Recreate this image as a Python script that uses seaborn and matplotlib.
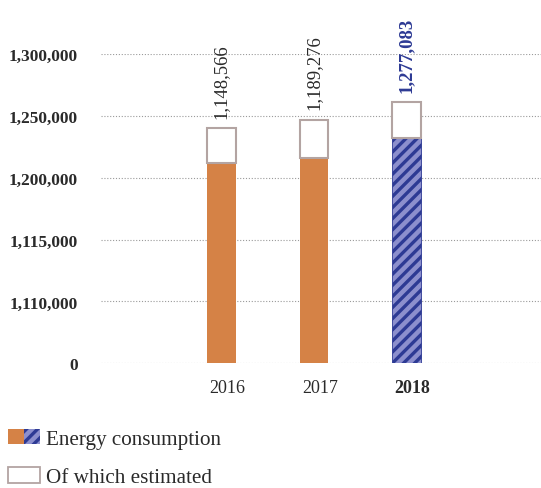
import numpy as np
import pandas as pd
import matplotlib
matplotlib.use("Agg")
import matplotlib.pyplot as plt
import seaborn as sns
from matplotlib.patches import Patch
from matplotlib.legend_handler import HandlerTuple
from matplotlib.transforms import ScaledTranslation

# ---- data ----
years = ["2016", "2017", "2018"]
energy = [1212000, 1216000, 1232500]        # solid / hatched part (axis units)
total = [1240000, 1247000, 1261000]         # top of the "estimated" box (axis units)
value_labels = ["1,148,566", "1,189,276", "1,277,083"]
ytick_values = [0, 1110000, 1115000, 1200000, 1250000, 1300000]
ytick_labels = ["0", "1,110,000", "1,115,000", "1,200,000", "1,250,000", "1,300,000"]
legend_labels = ["Energy consumption", "Of which estimated"]

ORANGE = "#D58246"
NAVY = "#2D3A94"
LAVENDER = "#8C8FCD"
BOXEDGE = "#B3A4A2"
TEXT = "#2a2a2a"
SERIF = "Liberation Serif"

sns.set_theme(style="white")
plt.rcParams["font.family"] = [SERIF, "DejaVu Serif"]
plt.rcParams["hatch.linewidth"] = 2.4

df = pd.DataFrame({"year": years, "energy": energy,
                   "estimated": np.array(total) - np.array(energy)})

fig = plt.figure(figsize=(5.41, 4.89), dpi=100)
ax = fig.add_axes([101 / 541, 1 - 364.3 / 489, 1 - 101 / 541, (364.3 - 55) / 489])

# broken (piecewise) axis: evenly spaced gridlines for the tick values
pos = np.arange(len(ytick_values), dtype=float)
tv = np.array(ytick_values, dtype=float)
fwd = lambda v: np.interp(v, tv, pos)
inv = lambda p: np.interp(p, pos, tv)
ax.set_yscale("function", functions=(fwd, inv))

sns.barplot(data=df, x="year", y="energy", hue="year",
            palette=[ORANGE, ORANGE, LAVENDER], width=0.31, legend=False,
            saturation=1, linewidth=0, ax=ax, zorder=3)
sns.barplot(data=df, x="year", y="estimated", color="white", width=0.31,
            saturation=1, bottom=df["energy"].values, edgecolor=BOXEDGE,
            linewidth=1.5, ax=ax, zorder=3)

# hatch for 2018 energy bar
for p in ax.patches[:3]:
    cx = p.get_x() + p.get_width() / 2
    if abs(cx - 2) < 0.5:
        p.set_edgecolor(NAVY)
        p.set_hatch("///")
        p.set_linewidth(0.6)

ax.set_ylim(0, 1300000)
ax.set_xlim(-1.30, 3.45)
ax.set_yticks(ytick_values)
ax.set_yticklabels(ytick_labels)
ax.yaxis.set_minor_locator(matplotlib.ticker.NullLocator())
ax.grid(axis="y", color="#9a9a9a", linestyle=(0, (1, 1.6)), linewidth=0.8, zorder=0)
ax.grid(axis="x", visible=False)
for s in ax.spines.values():
    s.set_visible(False)
ax.set_xlabel("")
ax.set_ylabel("")
ax.tick_params(axis="y", length=0, pad=16.5, labelsize=12.5, labelcolor=TEXT)
ax.tick_params(axis="x", length=0, pad=11, labelsize=13, labelcolor=TEXT)
for lab in ax.get_yticklabels():
    lab.set_fontweight("bold")
offset = ScaledTranslation(6 / 100, 0, fig.dpi_scale_trans)
for lab in ax.get_xticklabels():
    lab.set_transform(lab.get_transform() + offset)
    if lab.get_text() == "2018":
        lab.set_fontweight("bold")

for i, (t, lab) in enumerate(zip(total, value_labels)):
    bold = years[i] == "2018"
    ax.annotate(lab, (i, t), xytext=(0, 7.5), textcoords="offset points",
                rotation=90, ha="center", va="bottom", fontsize=13.5,
                color=NAVY if bold else TEXT,
                fontweight="bold" if bold else "normal",
                annotation_clip=False)

h_orange = Patch(facecolor=ORANGE, edgecolor=ORANGE, linewidth=0)
h_hatch = Patch(facecolor=LAVENDER, edgecolor=NAVY, hatch="///", linewidth=0)
h_box = Patch(facecolor="white", edgecolor=BOXEDGE, linewidth=1.3)
fig.legend(handles=[(h_orange, h_hatch), h_box], labels=legend_labels,
           handler_map={tuple: HandlerTuple(ndivide=None, pad=0)},
           loc="upper left", bbox_to_anchor=(8 / 541, 1 - 430 / 489),
           frameon=False, fontsize=15.2, labelcolor=TEXT,
           handlelength=1.52, handleheight=0.72, handletextpad=0.3,
           labelspacing=0.88, borderpad=0, borderaxespad=0)

fig.savefig("out.png", dpi=100)
